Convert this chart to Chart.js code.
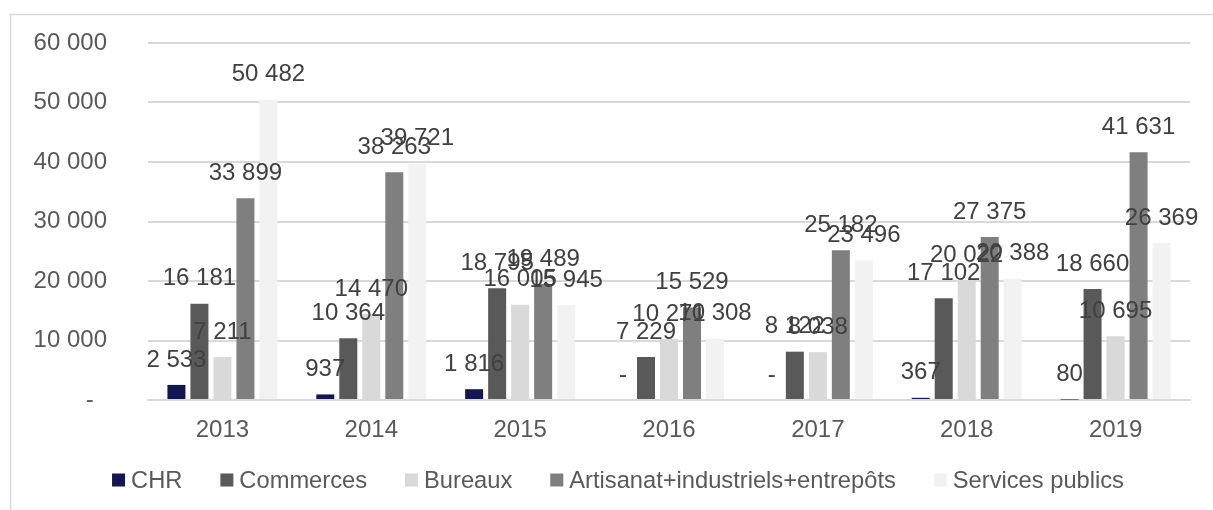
<!DOCTYPE html>
<html>
<head>
<meta charset="utf-8">
<script src="https://cdn.jsdelivr.net/npm/chart.js@4"></script>
<style>
  body { margin: 0; background: #fff; }
</style>
</head>
<body>
<canvas id="myChart" width="1213" height="510"></canvas>
<script>
const years = ['2013', '2014', '2015', '2016', '2017', '2018', '2019'];
const chr = [2533, 937, 1816, 0, 0, 367, 80];
const commerces = [16181, 10364, 18795, 7229, 8122, 17102, 18660];
const bureaux = [7211, 14470, 16005, 10271, 8038, 20022, 10695];
const artisanat = [33899, 38263, 19489, 15529, 25182, 27375, 41631];
const servicesPublics = [50482, 39721, 15945, 10308, 23496, 20388, 26369];
const yMin = 0, yMax = 60000, yStep = 10000;

const fontFamily = '"Liberation Sans", Arial, sans-serif';

function fmt(v) {
  if (v === 0) return '-';
  return v.toString().replace(/\B(?=(\d{3})+(?!\d))/g, ' ');
}

// white background + the light frame of the original chart area
const frame = {
  id: 'frame',
  beforeDraw(chart) {
    const ctx = chart.ctx;
    ctx.save();
    ctx.fillStyle = '#fff';
    ctx.fillRect(0, 0, chart.width, chart.height);
    ctx.strokeStyle = '#d9d9d9';
    ctx.lineWidth = 1.5;
    ctx.beginPath();
    ctx.moveTo(10.5, chart.height);
    ctx.lineTo(10.5, 14.5);
    ctx.lineTo(chart.width, 14.5);
    ctx.stroke();
    ctx.restore();
  }
};

// value labels above each bar
const barLabels = {
  id: 'barLabels',
  afterDatasetsDraw(chart) {
    const ctx = chart.ctx;
    ctx.save();
    ctx.font = '24px ' + fontFamily;
    ctx.fillStyle = '#404040';
    ctx.textAlign = 'center';
    ctx.textBaseline = 'middle';
    chart.data.datasets.forEach((ds, i) => {
      chart.getDatasetMeta(i).data.forEach((bar, j) => {
        ctx.fillText(fmt(ds.data[j]), bar.x, bar.y - 25);
      });
    });
    ctx.restore();
  }
};

// legend row like the Excel one (small square, short gap, text)
const legendRow = {
  id: 'legendRow',
  afterDraw(chart) {
    const ctx = chart.ctx;
    const box = 13, gap = 6, space = 38, centerX = 618, y = 480;
    ctx.save();
    ctx.font = '23.7px ' + fontFamily;
    ctx.textAlign = 'left';
    ctx.textBaseline = 'middle';
    const items = chart.data.datasets.map(ds => ({
      text: ds.label,
      color: ds.backgroundColor,
      w: ctx.measureText(ds.label).width
    }));
    let total = space * (items.length - 1);
    items.forEach(it => { total += box + gap + it.w; });
    let x = centerX - total / 2;
    items.forEach(it => {
      ctx.fillStyle = it.color;
      ctx.fillRect(x, y - box / 2, box, box);
      ctx.fillStyle = '#595959';
      ctx.fillText(it.text, x + box + gap, y + 1);
      x += box + gap + it.w + space;
    });
    ctx.restore();
  }
};

function mkSet(label, data, color) {
  return {
    label: label,
    data: data,
    backgroundColor: color,
    borderColor: color,
    borderWidth: 0,
    categoryPercentage: 0.7725,
    barPercentage: 0.783
  };
}

const ctx = document.getElementById('myChart');

const chart = new Chart(ctx, {
  type: 'bar',
  data: {
    labels: years,
    datasets: [
      mkSet('CHR', chr, '#131650'),
      mkSet('Commerces', commerces, '#595959'),
      mkSet('Bureaux', bureaux, '#d9d9d9'),
      mkSet('Artisanat+industriels+entrepôts', artisanat, '#7f7f7f'),
      mkSet('Services publics', servicesPublics, '#f2f2f2')
    ]
  },
  options: {
    responsive: false,
    animation: false,
    devicePixelRatio: 1,
    layout: {
      padding: { left: 20, right: 23, top: 43, bottom: 50 }
    },
    plugins: {
      title: { display: false },
      tooltip: { enabled: false },
      legend: { display: false }
    },
    scales: {
      x: {
        grid: { display: false },
        border: { display: true, color: '#d9d9d9', width: 2 },
        ticks: {
          color: '#595959',
          padding: 8,
          font: { family: fontFamily, size: 24 }
        },
        afterFit(scale) { scale.height = 60; }
      },
      y: {
        min: yMin,
        max: yMax,
        border: { display: false },
        grid: { color: '#d9d9d9', lineWidth: 2, drawTicks: false },
        ticks: {
          stepSize: yStep,
          color: '#595959',
          padding: 41,
          font: { family: fontFamily, size: 24 },
          callback: (v) => v === 0 ? '-  ' : fmt(v)
        },
        afterFit(scale) {
          scale.width = 128;
          scale.paddingTop = 0;
          scale.paddingBottom = 0;
        }
      }
    }
  },
  plugins: [frame, barLabels, legendRow]
});
</script>
</body>
</html>
